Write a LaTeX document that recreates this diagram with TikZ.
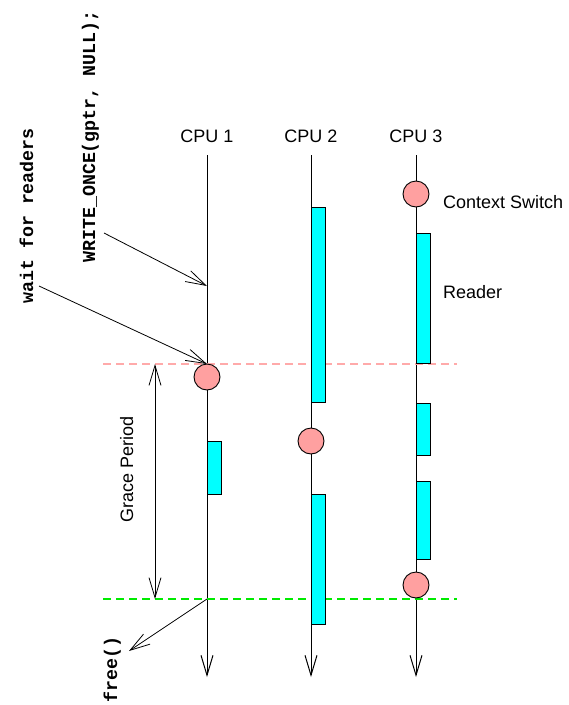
\documentclass[tikz,border=0pt]{standalone}
\usepackage{fontspec}
\setmainfont{Liberation Sans}
\newfontfamily\codefont{Liberation Mono}
\usetikzlibrary{arrows.meta}

\definecolor{ctxpink}{RGB}{255,160,160}
\definecolor{readercyan}{RGB}{0,255,255}
\definecolor{gpbegin}{RGB}{255,170,170}
\definecolor{gpend}{RGB}{0,235,0}

\begin{document}
\begin{tikzpicture}[x=1pt,y=-1pt,
  tip/.style={-{Straight Barb[length=20pt,width=12pt]}},
  tipboth/.style={{Straight Barb[length=20pt,width=12pt]}-{Straight Barb[length=20pt,width=12pt]}},
  cpuline/.style={tip,line width=1pt},
  reader/.style={draw,line width=0.8pt,fill=readercyan},
  cswitch/.style={circle,draw,line width=0.9pt,fill=ctxpink,minimum size=26pt,inner sep=0pt},
  lbl/.style={font=\fontsize{18}{20}\selectfont,inner sep=0pt},
  code/.style={font=\codefont\bfseries\fontsize{18.3}{20}\selectfont,rotate=90,anchor=base west,inner sep=0pt},
  gpmark/.style={line width=2pt,dash pattern=on 8pt off 5pt}]
\useasboundingbox (0,0) rectangle (569,705);

% CPU labels
\node[lbl,anchor=base] (cpu1) at (207,142) {CPU 1};
\node[lbl,anchor=base] (cpu2) at (311,142) {CPU 2};
\node[lbl,anchor=base] (cpu3) at (416,142) {CPU 3};

% time lines
\coordinate (c1top) at (207,155);
\coordinate (c1bot) at (207,677);
\coordinate (c2top) at (311,155);
\coordinate (c2bot) at (311,677);
\coordinate (c3top) at (416,155);
\coordinate (c3bot) at (416,677);
\draw[cpuline] (c1top) -- (c1bot);
\draw[cpuline] (c2top) -- (c2bot);
\draw[cpuline] (c3top) -- (c3bot);

% grace period boundaries
\coordinate (gpl) at (103,364);
\coordinate (gpr) at (457,364);
\coordinate (gel) at (103,599);
\coordinate (ger) at (457,599);
\draw[gpmark,gpbegin] (gpl) -- (gpr);
\draw[gpmark,gpend] (gel) -- (ger);

% readers
\draw[reader] (207,441) rectangle (221,494);
\draw[reader] (311,207) rectangle (325,402);
\draw[reader] (311,494) rectangle (325,624);
\draw[reader] (416,233) rectangle (430,363);
\draw[reader] (416,403) rectangle (430,455);
\draw[reader] (416,481) rectangle (430,559);

% context switches
\node[cswitch] (cs1) at (207,377) {};
\node[cswitch] (cs2) at (311,441) {};
\node[cswitch] (cs3) at (416,194) {};
\node[cswitch] (cs4) at (416,585) {};

% legend
\node[lbl,anchor=base west] (cslabel) at (443,208) {Context Switch};
\node[lbl,anchor=base west] (rdlabel) at (443,298) {Reader};

% grace period
\coordinate (gptop) at (155,364);
\coordinate (gpbot) at (155,599);
\draw[tipboth,line width=0.8pt] (gptop) -- (gpbot);
\node[lbl,rotate=90,anchor=base] (gplabel) at (133,469) {Grace Period};

% updater
\node[code] (waitlbl) at (33,304) {wait for readers};
\node[code] (writelbl) at (95,263) {WRITE\_ONCE(gptr, NULL);};
\node[code] (freelbl) at (117,703) {free()};
\coordinate (wrfrom) at (104,233);
\coordinate (wrto) at (207,286);
\coordinate (wtfrom) at (39,286);
\coordinate (wtto) at (207,364);
\coordinate (frfrom) at (207,599);
\coordinate (frto) at (129,651);
\draw[tip,line width=0.8pt] (wrfrom) -- (wrto);
\draw[tip,line width=0.8pt] (wtfrom) -- (wtto);
\draw[tip,line width=0.8pt] (frfrom) -- (frto);
\end{tikzpicture}
\end{document}
